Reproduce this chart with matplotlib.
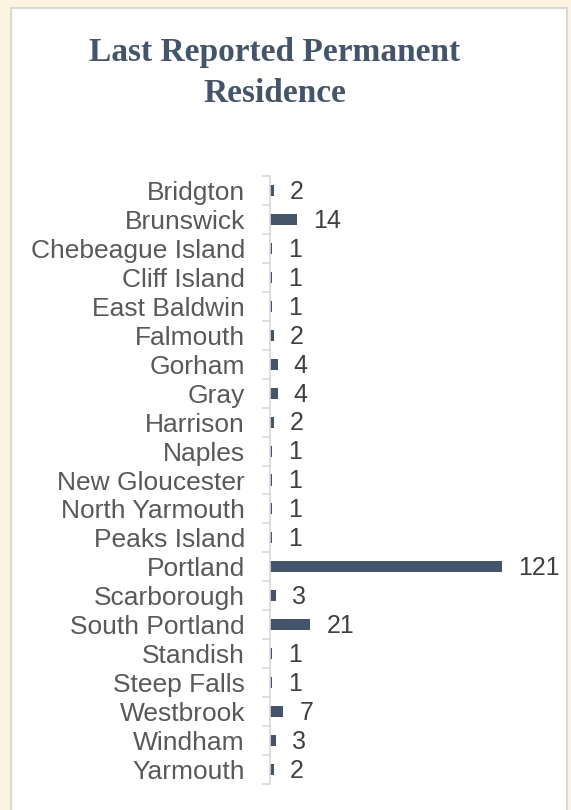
import matplotlib.pyplot as plt
import numpy as np
from matplotlib.patches import Rectangle


towns = ['Bridgton', 'Brunswick', 'Chebeague Island', 'Cliff Island', 'East Baldwin',
         'Falmouth', 'Gorham', 'Gray', 'Harrison', 'Naples', 'New Gloucester',
         'North Yarmouth', 'Peaks Island', 'Portland', 'Scarborough', 'South Portland',
         'Standish', 'Steep Falls', 'Westbrook', 'Windham', 'Yarmouth']
counts = [2, 14, 1, 1, 1, 2, 4, 4, 2, 1, 1, 1, 1, 121, 3, 21, 1, 1, 7, 3, 2]

plt.rcParams['font.family'] = ['Liberation Sans', 'DejaVu Sans']

cream = '#FDF3E1'
slate = '#44546A'
W, H = 571, 810

fig = plt.figure(figsize=(W/100, H/100), dpi=100, facecolor=cream)
# white panel with thin grey border, behind the axes
fig.patches.append(Rectangle((11/W, -0.01), (567-11)/W, 1 - 8/H + 0.01,
                             transform=fig.transFigure, facecolor='white',
                             edgecolor='#D9D9D9', lw=1.5, zorder=-10))

ax = fig.add_axes([270/W, 1 - 784/H, (560-270)/W, (784-176)/H])
ax.set_facecolor('none')

y = np.arange(len(towns))
ax.barh(y, counts, height=0.38, color=slate)
for yi, c in zip(y, counts):
    ax.annotate(str(c), (c, yi), xytext=(11.5, -1), textcoords='offset points',
                va='center', ha='left', fontsize=18, color='#404040')

ax.set_xlim(0, 151)
ax.set_ylim(len(towns) - 0.5, -0.5)
ax.set_yticks(y)
ax.set_yticklabels(towns, fontsize=19, color='#595959')
ax.set_yticks(np.arange(-0.5, len(towns)), minor=True)
ax.tick_params(axis='y', which='major', length=0, pad=18)
ax.tick_params(axis='y', which='minor', length=5.5, color='#D9D9D9', width=1.2)
ax.set_xticks([])
for s in ['top', 'right', 'bottom']:
    ax.spines[s].set_visible(False)
ax.spines['left'].set_color('#D9D9D9')
ax.spines['left'].set_linewidth(1.2)

fig.text(275/W, 1 - 73/H, 'Last Reported Permanent\nResidence', ha='center', va='center',
         fontsize=24, fontweight='bold', color=slate, family='Liberation Serif',
         linespacing=1.45)

fig.savefig('out.png', dpi=100, facecolor=cream)
